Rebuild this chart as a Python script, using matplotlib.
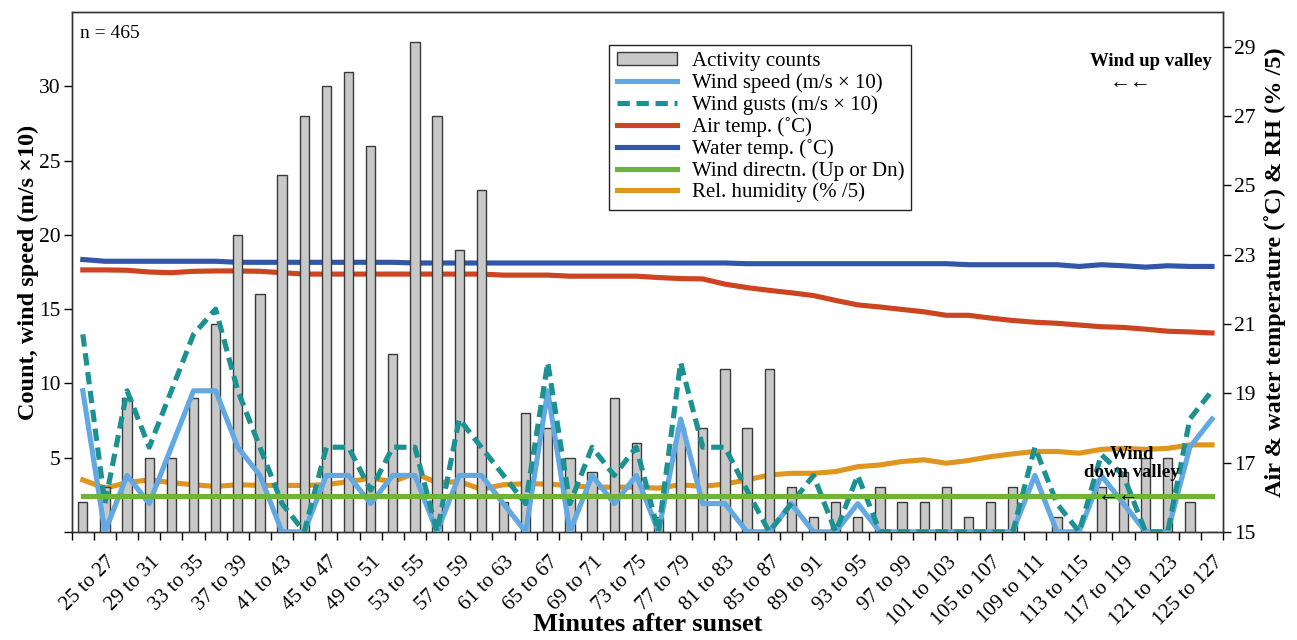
import matplotlib
matplotlib.use("Agg")
import matplotlib.pyplot as plt
import matplotlib.transforms as mtrans
import numpy as np
from matplotlib.patches import Patch
from matplotlib.lines import Line2D

plt.rcParams['font.family'] = ['Liberation Serif', 'DejaVu Serif']

# ---- data ----
tick_labels = ["25 to 27", "29 to 31", "33 to 35", "37 to 39", "41 to 43", "45 to 47",
               "49 to 51", "53 to 55", "57 to 59", "61 to 63", "65 to 67", "69 to 71",
               "73 to 75", "77 to 79", "81 to 83", "85 to 87", "89 to 91", "93 to 95",
               "97 to 99", "101 to 103", "105 to 107", "109 to 111", "113 to 115",
               "117 to 119", "121 to 123", "125 to 127"]

activity = [2, 3, 9, 5, 5, 9, 14, 20, 16, 24, 28, 30, 31, 26, 12, 33, 28, 19, 23, 2,
            8, 7, 5, 4, 9, 6, 1, 7, 7, 11, 7, 11, 3, 1, 2, 1, 3, 2, 2, 3,
            1, 2, 3, 0, 1, 0, 3, 4, 5, 5, 2, 0]

wind_speed = [9.5, 0, 3.8, 1.9, 5.7, 9.5, 9.5, 5.7, 3.8, 0, 0, 3.8, 3.8, 1.9, 3.8, 3.8, 0, 3.8, 3.8, 1.9,
              0, 9.5, 0, 3.8, 1.9, 3.8, 0, 7.6, 1.9, 1.9, 0, 0, 1.9, 0, 0, 1.9, 0, 0, 0, 0,
              0, 0, 0, 3.8, 0, 0, 3.8, 1.9, 0, 0, 5.7, 7.6]

wind_gusts = [13.3, 1.9, 9.5, 5.7, 9.5, 13.3, 15.0, 9.5, 5.7, 1.9, 0, 5.7, 5.7, 2.8, 5.7, 5.7, 0, 7.6, 5.7, 3.8,
              1.9, 11.4, 1.9, 5.7, 3.8, 5.7, 0, 11.4, 5.7, 5.7, 2.8, 0, 1.9, 3.8, 0, 3.8, 0, 0, 0, 0,
              0, 0, 0, 5.7, 1.9, 0, 5.2, 3.8, 0, 0, 7.6, 9.5]

air_temp = [22.56, 22.56, 22.55, 22.50, 22.48, 22.52, 22.53, 22.53, 22.52, 22.48, 22.44, 22.44, 22.44,
            22.44, 22.44, 22.44, 22.44, 22.44, 22.44, 22.41, 22.41, 22.41, 22.38, 22.38, 22.38, 22.38,
            22.34, 22.31, 22.30, 22.15, 22.05, 21.97, 21.90, 21.82, 21.68, 21.55, 21.49, 21.42, 21.35,
            21.25, 21.25, 21.17, 21.10, 21.05, 21.02, 20.97, 20.92, 20.90, 20.85, 20.79, 20.77, 20.74]

water_temp = [22.86, 22.81, 22.81, 22.81, 22.81, 22.81, 22.81, 22.78, 22.78, 22.78, 22.78, 22.78, 22.78,
              22.78, 22.78, 22.76, 22.76, 22.76, 22.76, 22.76, 22.76, 22.76, 22.76, 22.76, 22.76, 22.76,
              22.76, 22.76, 22.76, 22.76, 22.74, 22.74, 22.74, 22.74, 22.74, 22.74, 22.74, 22.74, 22.74,
              22.74, 22.71, 22.71, 22.71, 22.71, 22.71, 22.66, 22.71, 22.68, 22.64, 22.68, 22.66, 22.66]

wind_dir = [2.4] * 52

rel_humidity = [16.50, 16.26, 16.42, 16.50, 16.42, 16.36, 16.31, 16.36, 16.34, 16.34, 16.34, 16.36, 16.45,
                16.55, 16.45, 16.69, 16.42, 16.45, 16.23, 16.36, 16.39, 16.38, 16.33, 16.29, 16.29, 16.29,
                16.26, 16.36, 16.31, 16.38, 16.50, 16.64, 16.69, 16.69, 16.74, 16.88, 16.93, 17.03, 17.08,
                16.98, 17.06, 17.17, 17.25, 17.32, 17.32, 17.27, 17.38, 17.41, 17.38, 17.41, 17.51, 17.51]

# ---- colours ----
c_bar = '#c8c8c8'
c_speed = '#62a8e2'
c_gust = '#1b9191'
c_air = '#cc4420'
c_water = '#3456a8'
c_dir = '#6db43e'
c_rh = '#e0961e'

n = len(activity)
x = np.arange(n)

fig = plt.figure(figsize=(12.97, 6.40), dpi=100)
ax = fig.add_axes([0.0553, 0.169, 0.8877, 0.812])
ax2 = ax.twinx()
ax.set_zorder(ax2.get_zorder() + 1)
ax.patch.set_visible(False)

lw = 3.7
dash = (0, (2.4, 1.3))
ax.bar(x, activity, width=0.42, color=c_bar, edgecolor='#3a3a3a', linewidth=1.0, zorder=2)
ax.plot(x, wind_speed, color=c_speed, lw=lw, zorder=3)
ax.plot(x, wind_gusts, color=c_gust, lw=lw, ls=dash, zorder=4)
ax.plot(x, wind_dir, color=c_dir, lw=lw, zorder=5)

ax2.plot(x, air_temp, color=c_air, lw=lw)
ax2.plot(x, water_temp, color=c_water, lw=lw)
ax2.plot(x, rel_humidity, color=c_rh, lw=lw)

ax.set_xlim(-0.5, n - 0.5)
ax.set_ylim(0, 35)
ax2.set_ylim(15, 30)

ax.set_yticks([0, 5, 10, 15, 20, 25, 30])
ax.set_yticklabels(['', '5', '10', '15', '20', '25', '30'])
ax2.set_yticks([15, 17, 19, 21, 23, 25, 27, 29])

label_pos = np.arange(1, n, 2)
ax.set_xticks(label_pos)
ax.set_xticklabels(tick_labels, rotation=45, ha='right', va='top', rotation_mode='anchor')
ax.set_xticks(np.arange(-0.5, n, 1), minor=True)
ax.tick_params(axis='x', which='major', length=0, pad=15, labelsize=15)
ax.tick_params(axis='x', which='minor', length=6, width=1, direction='out')
ax.tick_params(axis='y', length=6, width=1, direction='out', labelsize=15.5, pad=2)
ax2.tick_params(axis='y', length=6, width=1, direction='out', labelsize=15.5, pad=2)

offset = mtrans.ScaledTranslation(1 / 100, 0, fig.dpi_scale_trans)
for lab in ax.get_xticklabels():
    lab.set_transform(lab.get_transform() + offset)

for a in (ax, ax2):
    for s in a.spines.values():
        s.set_color('#333333')
        s.set_linewidth(1.0)

ax.set_ylabel('Count, wind speed (m/s \u00d710)', fontsize=17.5, fontweight='bold')
ax.yaxis.set_label_coords(-0.028, 0.5)
ax2.set_ylabel('Air & water temperature (\u02daC) & RH (% /5)', fontsize=17.5, fontweight='bold')
ax2.yaxis.set_label_coords(1.036, 0.5)
ax.set_xlabel('Minutes after sunset', fontsize=19, fontweight='bold', va='center')
ax.xaxis.set_label_coords(0.5, -0.179)

ax.text(0.007, 0.975, 'n = 465', transform=ax.transAxes, fontsize=14, va='top', ha='left')
ax.text(0.937, 0.905, 'Wind up valley', transform=ax.transAxes, fontsize=13.5, fontweight='bold',
        ha='center', va='center')
ax.text(0.920, 0.862, '\u2190\u2190', transform=ax.transAxes, fontsize=15, ha='center', va='center')
ax.text(47.4, 4.6, 'Wind\ndown valley', fontsize=13.5, fontweight='bold', ha='center', va='center',
        linespacing=1.05, zorder=6)
ax.text(46.8, 2.4, '\u2190\u2190', fontsize=15, ha='center', va='center', zorder=6)

handles = [Patch(facecolor=c_bar, edgecolor='#3a3a3a', linewidth=1.0),
           Line2D([], [], color=c_speed, lw=lw),
           Line2D([], [], color=c_gust, lw=lw, ls=dash),
           Line2D([], [], color=c_air, lw=lw),
           Line2D([], [], color=c_water, lw=lw),
           Line2D([], [], color=c_dir, lw=lw),
           Line2D([], [], color=c_rh, lw=lw)]
labels = ['Activity counts', 'Wind speed (m/s \u00d7 10)', 'Wind gusts (m/s \u00d7 10)',
          'Air temp. (\u02daC)', 'Water temp. (\u02daC)', 'Wind directn. (Up or Dn)',
          'Rel. humidity (% /5)']
leg = ax.legend(handles, labels, loc='upper left', bbox_to_anchor=(0.467, 0.937), fontsize=15,
                frameon=True, fancybox=False, edgecolor='#222222', framealpha=1,
                handlelength=2.9, handleheight=0.6, labelspacing=0.1, borderpad=0.35,
                handletextpad=0.7, borderaxespad=0)
leg.get_frame().set_linewidth(1.0)

fig.savefig('out.png', dpi=100)
